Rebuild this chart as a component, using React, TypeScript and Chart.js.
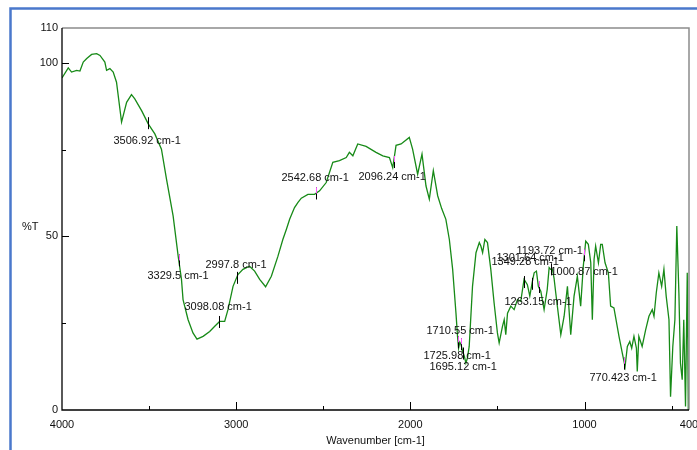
import React, { useEffect, useRef } from "react";
import { Chart, registerables } from "chart.js";

Chart.register(...registerables);

// ---- Data ----
const WAVENUMBERS = [
  4000, 3964, 3945, 3916, 3897, 3878, 3858, 3830, 3801, 3782, 3754, 3744, 3725, 3706, 3687, 3658,
  3629, 3601, 3582, 3543, 3505, 3467, 3429, 3400, 3362, 3333, 3314, 3305, 3276, 3248, 3225, 3190,
  3152, 3123, 3095, 3066, 3047, 3018, 2990, 2961, 2923, 2894, 2865, 2831, 2798, 2760, 2732, 2712,
  2693, 2665, 2645, 2626, 2588, 2550, 2521, 2483, 2445, 2407, 2368, 2350, 2330, 2302, 2254, 2197,
  2158, 2120, 2101, 2082, 2053, 2006, 1987, 1958, 1933, 1910, 1891, 1868, 1843, 1820, 1796, 1776,
  1757, 1738, 1729, 1723, 1716, 1709, 1700, 1690, 1681, 1672, 1662, 1643, 1623, 1604, 1595, 1585,
  1572, 1557, 1538, 1519, 1500, 1490, 1471, 1461, 1452, 1442, 1423, 1404, 1385, 1366, 1347, 1328,
  1314, 1299, 1289, 1276, 1265, 1251, 1232, 1214, 1203, 1194, 1184, 1175, 1165, 1136, 1117, 1098,
  1079, 1060, 1041, 1022, 1007, 993, 978, 964, 955, 945, 936, 920, 907, 898, 882, 863,
  850, 831, 802, 783, 767, 754, 740, 729, 716, 702, 697, 688, 669, 649, 630, 611,
  601, 588, 573, 557, 544, 531, 515, 506, 493, 481, 470, 458, 449, 439, 430, 420,
  410, 404,
];
const TRANSMITTANCE = [
  95.6, 98.5, 97.3, 97.8, 97.6, 100.2, 101.2, 102.4, 102.6, 102.1, 100.2, 97.8, 98.3, 97.3, 94.4, 82.9,
  88.6, 90.8, 89.6, 86.2, 82.4, 79.5, 75.1, 66.5, 55.9, 44.3, 37.6, 31.8, 26.0, 22.2, 20.4, 21.2,
  22.6, 24.1, 25.5, 25.5, 28.9, 35.6, 39.0, 40.5, 41.4, 40.0, 37.6, 35.5, 38.5, 44.3, 49.1, 52.0,
  54.9, 58.3, 59.8, 61.0, 62.1, 62.1, 63.1, 65.5, 71.3, 71.8, 72.7, 74.2, 73.2, 76.6, 75.9, 74.2,
  73.2, 72.7, 69.8, 76.2, 76.6, 78.5, 75.1, 67.9, 73.7, 64.5, 60.7, 68.9, 61.7, 58.0, 54.9, 49.1,
  40.5, 27.9, 21.2, 17.8, 19.5, 18.8, 17.0, 15.5, 13.5, 15.0, 18.3, 35.6, 45.3, 48.2, 47.2, 45.3,
  49.1, 48.2, 40.5, 30.8, 22.2, 19.3, 24.1, 26.0, 21.7, 27.9, 29.9, 28.9, 31.8, 31.3, 37.6, 36.1,
  32.8, 37.1, 39.5, 40.0, 35.6, 34.2, 28.9, 34.7, 41.0, 40.5, 40.5, 38.0, 33.7, 21.7, 27.0, 35.6,
  21.7, 32.8, 38.5, 29.9, 41.4, 48.6, 47.7, 42.4, 26.0, 43.4, 47.2, 42.4, 47.7, 47.7, 42.4, 39.5,
  29.9, 29.4, 21.2, 16.4, 12.5, 18.3, 19.7, 17.8, 21.2, 17.8, 11.1, 21.2, 18.3, 23.1, 27.0, 28.9,
  27.0, 33.7, 39.5, 35.6, 40.5, 32.8, 26.0, 3.8, 18.3, 26.0, 53.0, 33.7, 13.5, 8.7, 26.0, 1.0,
  39.5, 0.0,
];

const X_TICKS = [4000, 3000, 2000, 1000, 400];
const X_MAJOR_MARKS = [3000, 2000, 1000];
const X_MINOR_MARKS = [3500, 2500, 1500, 500];
const Y_TICKS = [0, 50, 100, 110];
const Y_MAJOR_MARKS = [50, 100];
const Y_MINOR_MARKS = [25, 75];

const PEAKS = [
  3506.92, 3329.5, 3098.08, 2997.8, 2542.68, 2096.24, 1725.98, 1710.55, 1695.12, 1349.28, 1301.64,
  1263.15, 1193.72, 1000.87, 770.423,
];
const PEAK_LABELS = PEAKS.map((w) => `${w} cm-1`);

// label placement (pixel offsets of the text's left/centre from the peak point on the curve)
const LABEL_OFFSETS = [
  [-35, 18], [-32, 16], [-35, -15], [-32, -13], [-35, -15], [-36, 15], [-35, 14], [-35, -13],
  [-34, 13], [-33, -20], [-36, -26], [-35, 15], [-35, -18], [-34, 17], [-35, 14],
];
const PINK_MARKERS = [false, true, false, false, true, true, true, true, false, false, false, true, false, true, true];

const FONT = "Liberation Sans, Arial, sans-serif";

function curveAt(w: number): number {
  for (let i = 0; i < WAVENUMBERS.length - 1; i++) {
    const a = WAVENUMBERS[i];
    const b = WAVENUMBERS[i + 1];
    if (w <= a && w >= b) {
      const t = (a - w) / (a - b);
      return TRANSMITTANCE[i] + t * (TRANSMITTANCE[i + 1] - TRANSMITTANCE[i]);
    }
  }
  return TRANSMITTANCE[TRANSMITTANCE.length - 1];
}

const decorPlugin = {
  id: "ftirDecor",
  afterDraw(chart: any) {
    const { ctx, chartArea: a, scales } = chart;
    const xs = scales.x;
    const ys = scales.y;
    ctx.save();

    // gray frame (top, right)
    ctx.strokeStyle = "#8c8c8c";
    ctx.lineWidth = 1.5;
    ctx.beginPath();
    ctx.moveTo(a.left, a.top);
    ctx.lineTo(a.right, a.top);
    ctx.lineTo(a.right, a.bottom);
    ctx.stroke();

    // black axes
    ctx.strokeStyle = "#000";
    ctx.lineWidth = 1.3;
    ctx.beginPath();
    ctx.moveTo(a.left, a.top);
    ctx.lineTo(a.left, a.bottom);
    ctx.lineTo(a.right, a.bottom);
    ctx.stroke();

    // tick marks (inside)
    ctx.lineWidth = 1;
    ctx.beginPath();
    Y_MAJOR_MARKS.forEach((v) => {
      const y = Math.round(ys.getPixelForValue(v)) + 0.5;
      ctx.moveTo(a.left, y);
      ctx.lineTo(a.left + 7, y);
    });
    Y_MINOR_MARKS.forEach((v) => {
      const y = Math.round(ys.getPixelForValue(v)) + 0.5;
      ctx.moveTo(a.left, y);
      ctx.lineTo(a.left + 4, y);
    });
    X_MAJOR_MARKS.forEach((v) => {
      const x = Math.round(xs.getPixelForValue(v)) + 0.5;
      ctx.moveTo(x, a.bottom);
      ctx.lineTo(x, a.bottom - 8);
    });
    X_MINOR_MARKS.forEach((v) => {
      const x = Math.round(xs.getPixelForValue(v)) + 0.5;
      ctx.moveTo(x, a.bottom);
      ctx.lineTo(x, a.bottom - 4);
    });
    ctx.stroke();

    // peak markers and labels
    ctx.font = `11px ${FONT}`;
    ctx.textBaseline = "middle";
    ctx.textAlign = "left";
    PEAKS.forEach((w, i) => {
      const px = Math.round(xs.getPixelForValue(w)) + 0.5;
      const py = ys.getPixelForValue(curveAt(w));
      const [dx, dy] = LABEL_OFFSETS[i];
      ctx.strokeStyle = "#000";
      ctx.lineWidth = 1;
      ctx.beginPath();
      ctx.moveTo(px, py - 6);
      ctx.lineTo(px, py + 6);
      ctx.stroke();
      if (PINK_MARKERS[i]) {
        ctx.strokeStyle = "#ff55ff";
        ctx.beginPath();
        ctx.moveTo(px, py - 6);
        ctx.lineTo(px, py);
        ctx.stroke();
      }
      ctx.fillStyle = "#111";
      ctx.fillText(PEAK_LABELS[i], px + dx, py + dy);
    });

    // axis titles
    ctx.fillStyle = "#111";
    ctx.font = `11px ${FONT}`;
    ctx.textAlign = "center";
    ctx.fillText("Wavenumber [cm-1]", (a.left + a.right) / 2, 441);
    ctx.textAlign = "left";
    ctx.fillText("%T", 22, 227);

    // blue outer frame
    ctx.strokeStyle = "#4a78cc";
    ctx.lineWidth = 2.5;
    ctx.beginPath();
    ctx.moveTo(10.5, 450);
    ctx.lineTo(10.5, 8.5);
    ctx.lineTo(697, 8.5);
    ctx.stroke();

    ctx.restore();
  },
};

export default function App() {
  const canvasRef = useRef<HTMLCanvasElement | null>(null);

  useEffect(() => {
    const canvas = canvasRef.current;
    if (!canvas) return;
    const points = WAVENUMBERS.map((w, i) => ({ x: w, y: TRANSMITTANCE[i] }));
    const chart = new Chart(canvas, {
      type: "line",
      data: {
        datasets: [
          {
            data: points,
            borderColor: "#178a17",
            borderWidth: 1.3,
            pointRadius: 0,
            tension: 0,
            fill: false,
          },
        ],
      },
      options: {
        animation: false,
        responsive: false,
        devicePixelRatio: 1,
        layout: { padding: { left: 0, right: 8, top: 28, bottom: 0 } },
        plugins: { legend: { display: false }, tooltip: { enabled: false } },
        scales: {
          x: {
            type: "linear",
            reverse: true,
            min: 400,
            max: 4000,
            grid: { display: false, drawTicks: false },
            border: { display: false },
            afterBuildTicks: (s: any) => {
              s.ticks = X_TICKS.map((v) => ({ value: v }));
            },
            afterFit: (s: any) => {
              s.height = 40;
              s.paddingLeft = 0;
              s.paddingRight = 0;
            },
            ticks: {
              autoSkip: false,
              maxRotation: 0,
              padding: 8,
              color: "#111",
              font: { family: FONT, size: 11 },
              callback: (v: any) => String(v),
            },
          },
          y: {
            min: 0,
            max: 110,
            grid: { display: false, drawTicks: false },
            border: { display: false },
            afterBuildTicks: (s: any) => {
              s.ticks = Y_TICKS.map((v) => ({ value: v }));
            },
            afterFit: (s: any) => {
              s.width = 62;
              s.paddingTop = 0;
              s.paddingBottom = 0;
            },
            ticks: {
              autoSkip: false,
              padding: 4,
              color: "#111",
              font: { family: FONT, size: 11 },
              callback: (v: any) => String(v),
            },
          },
        },
      },
      plugins: [decorPlugin],
    });
    return () => chart.destroy();
  }, []);

  return (
    <div style={{ position: "fixed", left: 0, top: 0, width: 697, height: 450, background: "#fff" }}>
      <canvas ref={canvasRef} width={697} height={450} style={{ display: "block" }} />
    </div>
  );
}
